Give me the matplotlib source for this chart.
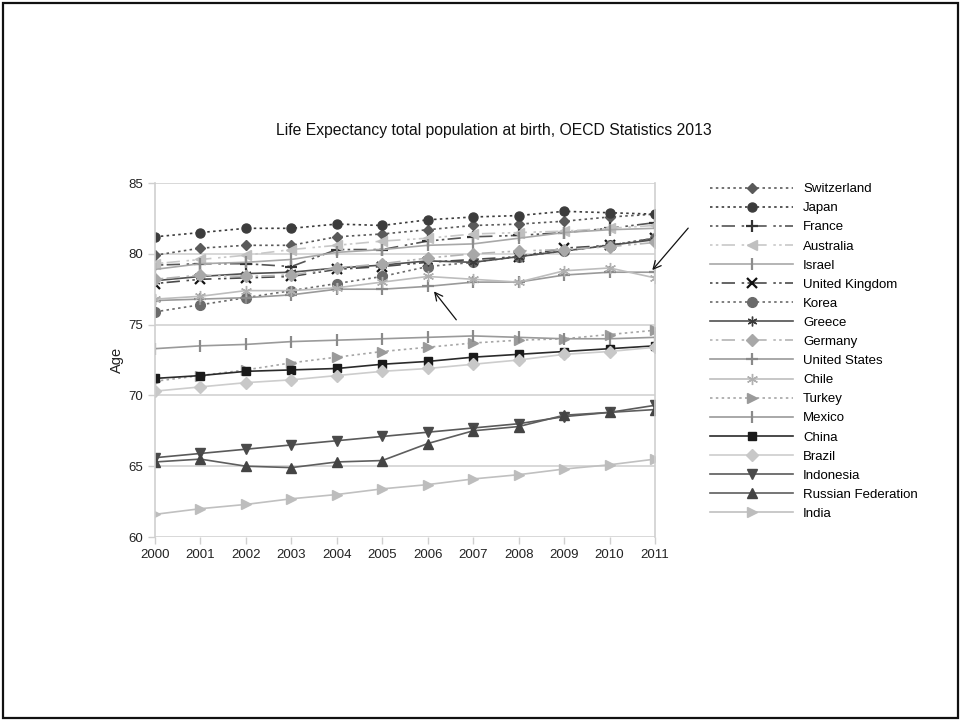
import matplotlib
matplotlib.use("Agg")
import matplotlib.pyplot as plt
from matplotlib.patches import Rectangle

plt.rcParams['font.family'] = ['Liberation Sans', 'DejaVu Sans']

years = list(range(2000, 2012))

switzerland = [79.9, 80.4, 80.6, 80.6, 81.2, 81.4, 81.7, 82.0, 82.1, 82.3, 82.6, 82.8]
japan = [81.2, 81.5, 81.8, 81.8, 82.1, 82.0, 82.4, 82.6, 82.7, 83.0, 82.9, 82.8]
france = [79.2, 79.3, 79.3, 79.1, 80.3, 80.3, 80.9, 81.2, 81.3, 81.5, 81.8, 82.2]
australia = [79.3, 79.6, 79.9, 80.3, 80.6, 80.9, 81.1, 81.4, 81.5, 81.6, 81.8, 82.0]
israel = [78.9, 79.3, 79.4, 79.6, 80.1, 80.3, 80.6, 80.7, 81.1, 81.5, 81.7, 81.8]
united_kingdom = [77.9, 78.2, 78.3, 78.4, 78.9, 79.1, 79.4, 79.6, 79.8, 80.4, 80.6, 81.1]
korea = [75.9, 76.4, 76.9, 77.4, 77.9, 78.4, 79.1, 79.4, 79.8, 80.2, 80.6, 81.1]
greece = [78.1, 78.4, 78.6, 78.7, 79.0, 79.2, 79.5, 79.4, 79.8, 80.2, 80.6, 81.0]
germany = [78.2, 78.5, 78.4, 78.5, 79.0, 79.3, 79.7, 80.0, 80.2, 80.3, 80.5, 80.8]
united_states = [76.7, 76.8, 76.9, 77.1, 77.5, 77.5, 77.7, 78.0, 78.0, 78.5, 78.7, 78.7]
chile = [76.8, 77.0, 77.4, 77.4, 77.6, 78.0, 78.4, 78.2, 78.0, 78.8, 79.0, 78.3]
turkey = [71.0, 71.4, 71.8, 72.3, 72.7, 73.1, 73.4, 73.7, 73.9, 74.0, 74.3, 74.6]
mexico = [73.3, 73.5, 73.6, 73.8, 73.9, 74.0, 74.1, 74.2, 74.1, 74.0, 74.0, 74.1]
china = [71.2, 71.4, 71.7, 71.8, 71.9, 72.2, 72.4, 72.7, 72.9, 73.1, 73.3, 73.5]
brazil = [70.3, 70.6, 70.9, 71.1, 71.4, 71.7, 71.9, 72.2, 72.5, 72.9, 73.1, 73.4]
indonesia = [65.6, 65.9, 66.2, 66.5, 66.8, 67.1, 67.4, 67.7, 68.0, 68.5, 68.8, 69.3]
russia = [65.3, 65.5, 65.0, 64.9, 65.3, 65.4, 66.6, 67.5, 67.8, 68.6, 68.8, 69.0]
india = [61.6, 62.0, 62.3, 62.7, 63.0, 63.4, 63.7, 64.1, 64.4, 64.8, 65.1, 65.5]

y_ticks = [60, 65, 70, 75, 80, 85]
title = "Life Expectancy total population at birth, OECD Statistics 2013"

dashdot = (0, (1.5, 2, 1.5, 2, 8, 4))
dotted = (0, (1.5, 2))

# (label, values, color, linestyle, marker, markersize, marker color)
series = [
    ("Switzerland", switzerland, "#5a5a5a", dotted, "D", 5.5, "#5a5a5a"),
    ("Japan", japan, "#3c3c3c", dotted, "o", 6.5, "#3c3c3c"),
    ("France", france, "#555555", dashdot, "+", 8, "#333333"),
    ("Australia", australia, "#c8c8c8", dashdot, "<", 7, "#c0c0c0"),
    ("Israel", israel, "#a8a8a8", "-", "|", 9, "#8c8c8c"),
    ("United Kingdom", united_kingdom, "#4a4a4a", dashdot, "x", 7, "#111111"),
    ("Korea", korea, "#6a6a6a", dotted, "o", 7, "#6a6a6a"),
    ("Greece", greece, "#505050", "-", (6, 2, 0), 7, "#3a3a3a"),
    ("Germany", germany, "#b4b4b4", dashdot, "D", 6, "#a8a8a8"),
    ("United States", united_states, "#9a9a9a", "-", "+", 8, "#8a8a8a"),
    ("Chile", chile, "#bdbdbd", "-", (6, 2, 0), 8, "#b0b0b0"),
    ("Turkey", turkey, "#a6a6a6", dotted, ">", 7, "#9a9a9a"),
    ("Mexico", mexico, "#9a9a9a", "-", "|", 9, "#8a8a8a"),
    ("China", china, "#2a2a2a", "-", "s", 5.5, "#1a1a1a"),
    ("Brazil", brazil, "#cdcdcd", "-", "D", 6, "#c8c8c8"),
    ("Indonesia", indonesia, "#5a5a5a", "-", "v", 7, "#4a4a4a"),
    ("Russian Federation", russia, "#5e5e5e", "-", "^", 7, "#444444"),
    ("India", india, "#c0c0c0", "-", ">", 7, "#bdbdbd"),
]

fig = plt.figure(figsize=(9.61, 7.21), dpi=100)
ax = fig.add_axes([155 / 961, 1 - 537 / 721, 500 / 961, 354 / 721])

for label, vals, color, ls, marker, ms, mcolor in series:
    ax.plot(years, vals, color=color, linestyle=ls, linewidth=1.2,
            marker=marker, markersize=ms, markerfacecolor=mcolor,
            markeredgecolor=mcolor, markeredgewidth=1.6 if marker in ("+", "x", "|") else 1.0,
            label=label)

ax.set_xlim(2000, 2011)
ax.set_ylim(60, 85)
ax.set_xticks(years)
ax.set_xticklabels([str(y) for y in years], fontsize=9.5)
ax.set_yticks(y_ticks)
ax.set_yticklabels([str(t) for t in y_ticks], fontsize=9.5)
ax.grid(axis="y", color="#d2d2d2", linewidth=1.2)
ax.set_axisbelow(True)
for side in ("top", "bottom"):
    ax.spines[side].set_visible(False)
for side in ("left", "right"):
    ax.spines[side].set_color("#cfcfcf")
    ax.spines[side].set_linewidth(1.2)
ax.tick_params(axis="both", colors="#cfcfcf", labelcolor="#222222", length=5, width=1.0)
ax.set_ylabel("Age", fontsize=10.5, color="#222222", labelpad=3)

fig.text(494 / 961, 1 - 131 / 721, title, ha="center", va="center",
         fontsize=11.3, color="#111111")

ax.legend(loc="upper left", bbox_to_anchor=(710 / 961, 1 - 183 / 721),
          bbox_transform=fig.transFigure, frameon=False, fontsize=9.5,
          handlelength=6.3, handletextpad=0.75, labelspacing=0.52,
          borderaxespad=0, borderpad=0)

arrow = dict(arrowstyle="->", color="#111111", lw=0.9, mutation_scale=14)
ax.annotate("", xy=(2010.9, 78.7), xytext=(690, 721 - 226),
            textcoords="figure pixels", arrowprops=arrow)
ax.annotate("", xy=(2006.1, 77.5), xytext=(458, 721 - 322),
            textcoords="figure pixels", arrowprops=arrow)

fig.patches.append(Rectangle((3 / 961, 3 / 721), 955 / 961, 715 / 721,
                             transform=fig.transFigure, fill=False,
                             edgecolor="#111111", linewidth=1.6))

fig.savefig("out.png", dpi=100, facecolor="white")
